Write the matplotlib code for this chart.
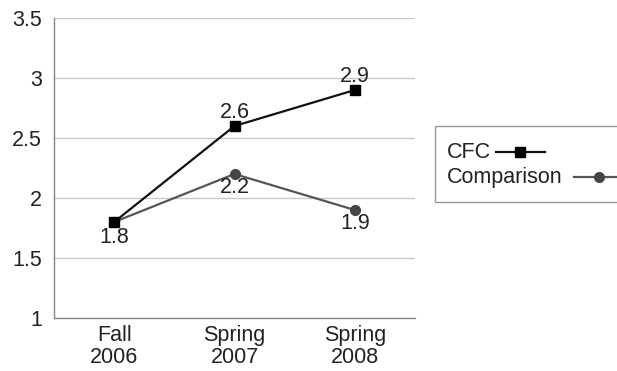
import matplotlib
matplotlib.use("Agg")
import matplotlib.pyplot as plt
from matplotlib.lines import Line2D
from matplotlib.patches import Rectangle

categories = ["Fall\n2006", "Spring\n2007", "Spring\n2008"]
cfc = [1.8, 2.6, 2.9]
comparison = [1.8, 2.2, 1.9]
yticks = [1, 1.5, 2, 2.5, 3, 3.5]
ytick_labels = ["1", "1.5", "2", "2.5", "3", "3.5"]
series_names = ["CFC", "Comparison"]

plt.rcParams['font.family'] = ['Liberation Sans', 'DejaVu Sans']

W, H = 617, 371
fig = plt.figure(figsize=(W/100, H/100), dpi=100)
ax = fig.add_axes([54/W, 1-318/H, (415-54)/W, (318-18)/H])

cfc_col = '#111111'
cmp_col = '#555555'
x = list(range(len(categories)))
ax.plot(x, comparison, color=cmp_col, lw=1.6, marker='o', ms=7, mfc='#444444', mec='#444444', zorder=3)
ax.plot(x, cfc, color=cfc_col, lw=1.6, marker='s', ms=7, mfc='#000000', mec='#000000', zorder=4)

fs = 15.5
tc = '#222222'
ax.annotate(f"{cfc[0]}", (x[0], cfc[0]), xytext=(0, -11.5), textcoords='offset points', ha='center', va='center', fontsize=fs, color=tc)
ax.annotate(f"{cfc[1]}", (x[1], cfc[1]), xytext=(0, 9.5), textcoords='offset points', ha='center', va='center', fontsize=fs, color=tc)
ax.annotate(f"{cfc[2]}", (x[2], cfc[2]), xytext=(0, 9.5), textcoords='offset points', ha='center', va='center', fontsize=fs, color=tc)
ax.annotate(f"{comparison[1]}", (x[1], comparison[1]), xytext=(0, -10), textcoords='offset points', ha='center', va='center', fontsize=fs, color=tc)
ax.annotate(f"{comparison[2]}", (x[2], comparison[2]), xytext=(0, -9.5), textcoords='offset points', ha='center', va='center', fontsize=fs, color=tc)

ax.set_xlim(-0.5, 2.5)
ax.set_ylim(1, 3.5)
ax.set_yticks(yticks)
ax.set_yticklabels(ytick_labels, fontsize=fs, color=tc)
ax.set_xticks(x)
ax.set_xticklabels(categories, fontsize=fs, color=tc, linespacing=1.05)
ax.tick_params(axis='y', length=0, pad=8.5)
ax.tick_params(axis='x', length=0, pad=5)
ax.yaxis.grid(True, color='#c8c8c8', lw=1)
ax.set_axisbelow(True)
for s in ['top', 'right']:
    ax.spines[s].set_visible(False)
for s in ['left', 'bottom']:
    ax.spines[s].set_color('#888888')
    ax.spines[s].set_linewidth(1)

# legend drawn manually (text first, handle right after the text)
def fx(px):
    return px / W
def fy(py):
    return 1 - py / H

fig.patches.append(Rectangle((fx(435), fy(202)), fx(700) - fx(435), fy(126) - fy(202),
                             transform=fig.transFigure, fill=False, edgecolor='#999999', lw=1))
fig.text(fx(447), fy(152), series_names[0], fontsize=fs, color=tc, va='center', ha='left')
fig.lines.append(Line2D([fx(496), fx(545)], [fy(152), fy(152)], transform=fig.transFigure,
                        color=cfc_col, lw=1.6))
fig.lines.append(Line2D([fx(520)], [fy(152)], transform=fig.transFigure, marker='s', ms=7,
                        mfc='#000000', mec='#000000', lw=0))
fig.text(fx(447), fy(177), series_names[1], fontsize=fs, color=tc, va='center', ha='left')
fig.lines.append(Line2D([fx(574), fx(625)], [fy(177), fy(177)], transform=fig.transFigure,
                        color=cmp_col, lw=1.6))
fig.lines.append(Line2D([fx(599)], [fy(177)], transform=fig.transFigure, marker='o', ms=7,
                        mfc='#444444', mec='#444444', lw=0))

fig.savefig("out.png", dpi=100)
